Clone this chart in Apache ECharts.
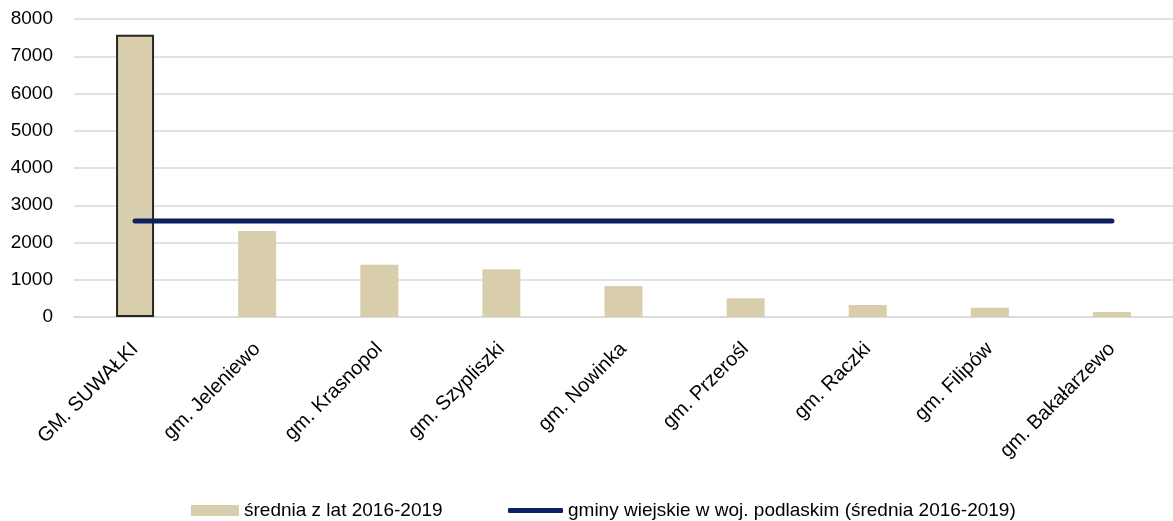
<!DOCTYPE html>
<html>
<head>
<meta charset="utf-8">
<script src="https://cdn.jsdelivr.net/npm/echarts@6/dist/echarts.min.js"></script>
<style>
    html, body { margin: 0; padding: 0; background: #fff; }
    #chart { width: 1173px; height: 521px; }
</style>
</head>
<body>
<div id="chart"></div>
<script>
    // gminy powiatu suwalskiego
    const categories = ['GM. SUWAŁKI', 'gm. Jeleniewo', 'gm. Krasnopol', 'gm. Szypliszki', 'gm. Nowinka',
        'gm. Przerośl', 'gm. Raczki', 'gm. Filipów', 'gm. Bakałarzewo'];
    const barValues = [7580, 2310, 1400, 1280, 830, 505, 320, 245, 135];
    const lineValues = [2580, 2580, 2580, 2580, 2580, 2580, 2580, 2580, 2580];
    const yTicks = { min: 0, max: 8000, interval: 1000 };

    const barName = 'średnia z lat 2016-2019';
    const lineName = 'gminy wiejskie w woj. podlaskim (średnia 2016-2019)';

    const font = '"Liberation Sans", Arial, sans-serif';
    const chart = echarts.init(document.getElementById('chart'));

    const option = {
        animation: false,
        textStyle: { fontFamily: font },
        grid: { left: 74, right: -5, top: 19, bottom: 204 },
        legend: [{
            data: [{ name: barName, icon: 'rect' }],
            left: 186,
            top: 496,
            itemWidth: 48,
            itemHeight: 11,
            textStyle: { fontSize: 19, color: '#000', fontFamily: font }
        }, {
            data: [{ name: lineName, icon: 'roundRect' }],
            left: 503,
            top: 496,
            itemWidth: 55,
            itemHeight: 5,
            textStyle: { fontSize: 19, color: '#000', fontFamily: font }
        }],
        xAxis: {
            type: 'category',
            data: categories,
            axisTick: { show: false },
            axisLine: { lineStyle: { color: '#d9d9d9', width: 1.5 } },
            axisLabel: {
                rotate: 45,
                interval: 0,
                margin: 29,
                fontSize: 20,
                color: '#000'
            }
        },
        yAxis: {
            type: 'value',
            min: yTicks.min,
            max: yTicks.max,
            interval: yTicks.interval,
            axisLine: { show: false },
            axisTick: { show: false },
            splitLine: { lineStyle: { color: '#d9d9d9', width: 1.5 } },
            axisLabel: {
                margin: 21,
                fontSize: 19,
                color: '#000',
                formatter: v => String(v)
            }
        },
        series: [{
            name: barName,
            type: 'bar',
            barWidth: 38,
            itemStyle: { color: '#d9ceac' },
            data: barValues.map((v, i) => i === 0
                ? { value: v, itemStyle: { borderColor: '#262626', borderWidth: 2 } }
                : v)
        }, {
            name: lineName,
            type: 'line',
            showSymbol: false,
            symbol: 'none',
            color: '#0a215e',
            lineStyle: { width: 5, color: '#0a215e', cap: 'round' },
            data: lineValues
        }]
    };

    chart.setOption(option);
</script>
</body>
</html>
